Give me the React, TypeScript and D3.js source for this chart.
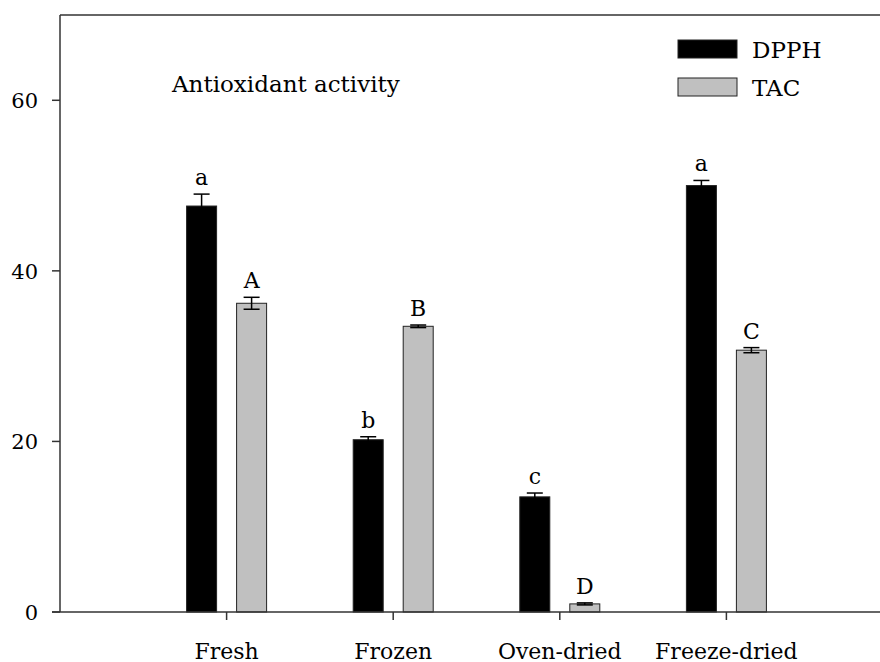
import React, { useEffect, useRef } from 'react';
import * as d3 from 'd3';

const categories = ['Fresh', 'Frozen', 'Oven-dried', 'Freeze-dried'];
const dpphValues = [47.6, 20.2, 13.5, 50.0];
const dpphErrors = [1.4, 0.35, 0.45, 0.6];
const dpphLetters = ['a', 'b', 'c', 'a'];
const tacValues = [36.2, 33.5, 0.95, 30.7];
const tacErrors = [0.7, 0.15, 0.12, 0.3];
const tacLetters = ['A', 'B', 'D', 'C'];
const yTicks = [0, 20, 40, 60];

const App: React.FC = () => {
  const svgRef = useRef<SVGSVGElement>(null);

  useEffect(() => {
    if (!svgRef.current) return;
    document.body.style.margin = '0';
    document.body.style.overflow = 'hidden';
    const svg = d3.select(svgRef.current);
    svg.selectAll('*').remove();

    const font = '"DejaVu Serif", "Liberation Serif", serif';
    const left = 60, top = 15, bottom = 612, right = 893;

    const y = d3.scaleLinear().domain([0, 70]).range([bottom, top]);
    // category positions sit at 1..4 on a 0..5 axis
    const x = d3.scaleLinear().domain([0, 5]).range([left, right]);
    const barW = 30;
    const offset = 25;

    const series = [
      { name: 'DPPH', values: dpphValues, errors: dpphErrors, letters: dpphLetters, fill: '#000', dx: -offset },
      { name: 'TAC', values: tacValues, errors: tacErrors, letters: tacLetters, fill: '#c0c0c0', dx: offset },
    ];

    const g = svg.append('g');

    series.forEach(s => {
      const grp = g.append('g');
      grp.selectAll('rect')
        .data(s.values)
        .enter()
        .append('rect')
        .attr('x', (_, i) => x(i + 1) + s.dx - barW / 2)
        .attr('y', d => y(d))
        .attr('width', barW)
        .attr('height', d => y(0) - y(d))
        .attr('fill', s.fill)
        .attr('stroke', '#222')
        .attr('stroke-width', 1);

      // error bars
      s.values.forEach((v, i) => {
        const cx = x(i + 1) + s.dx;
        const hi = y(v + s.errors[i]);
        const lo = y(v - s.errors[i]);
        grp.append('line').attr('x1', cx).attr('x2', cx).attr('y1', hi).attr('y2', lo)
          .attr('stroke', '#000').attr('stroke-width', 1.5);
        [hi, lo].forEach(yy => {
          grp.append('line').attr('x1', cx - 8).attr('x2', cx + 8).attr('y1', yy).attr('y2', yy)
            .attr('stroke', '#000').attr('stroke-width', 1.5);
        });
        grp.append('text')
          .attr('x', cx)
          .attr('y', hi - 9)
          .attr('text-anchor', 'middle')
          .style('font-family', font)
          .style('font-size', '22px')
          .text(s.letters[i]);
      });
    });

    const axisColor = '#333';
    // frame (right edge falls outside the picture)
    svg.append('line').attr('x1', left).attr('x2', right).attr('y1', top).attr('y2', top)
      .attr('stroke', axisColor).attr('stroke-width', 1.5);
    svg.append('line').attr('x1', left).attr('x2', left).attr('y1', top).attr('y2', bottom)
      .attr('stroke', axisColor).attr('stroke-width', 1.5);
    svg.append('line').attr('x1', left - 8).attr('x2', right).attr('y1', bottom).attr('y2', bottom)
      .attr('stroke', axisColor).attr('stroke-width', 1.5);

    // y ticks
    yTicks.forEach(t => {
      svg.append('line').attr('x1', left - 8).attr('x2', left).attr('y1', y(t)).attr('y2', y(t))
        .attr('stroke', axisColor).attr('stroke-width', 1.5);
      svg.append('text')
        .attr('x', 38)
        .attr('y', y(t) + 8)
        .attr('text-anchor', 'end')
        .style('font-family', font)
        .style('font-size', '21px')
        .text(t);
    });

    // x ticks
    categories.forEach((c, i) => {
      const cx = x(i + 1);
      svg.append('line').attr('x1', cx).attr('x2', cx).attr('y1', bottom).attr('y2', bottom + 8)
        .attr('stroke', axisColor).attr('stroke-width', 1.5);
      svg.append('text')
        .attr('x', cx)
        .attr('y', 659)
        .attr('text-anchor', 'middle')
        .style('font-family', font)
        .style('font-size', '22px')
        .text(c);
    });

    // title
    svg.append('text')
      .attr('x', 172)
      .attr('y', 92)
      .style('font-family', font)
      .style('font-size', '23px')
      .text('Antioxidant activity');

    // legend
    series.forEach((s, i) => {
      const ly = 40 + i * 38;
      svg.append('rect').attr('x', 678).attr('y', ly).attr('width', 59).attr('height', 18)
        .attr('fill', s.fill).attr('stroke', '#222').attr('stroke-width', 1);
      svg.append('text')
        .attr('x', 752)
        .attr('y', ly + 18)
        .style('font-family', font)
        .style('font-size', '23px')
        .text(s.name);
    });
  }, []);

  return (
    <svg
      ref={svgRef}
      width={880}
      height={662}
      style={{ position: 'absolute', left: 0, top: 0, background: '#fff' }}
    />
  );
};

export default App;
